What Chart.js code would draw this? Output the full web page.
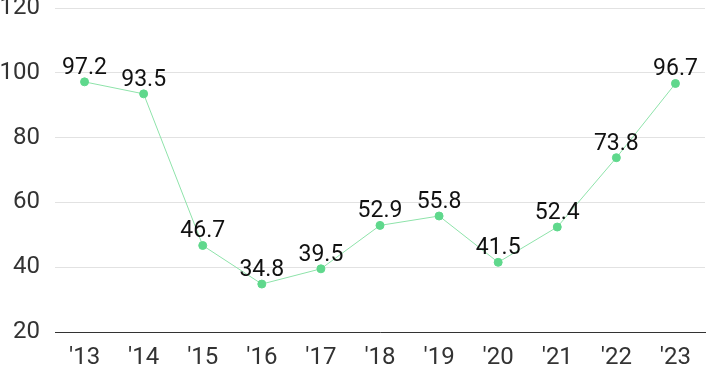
<!DOCTYPE html>
<html>
<head>
<meta charset="utf-8">
<script src="https://cdn.jsdelivr.net/npm/chart.js@4/dist/chart.umd.min.js"></script>
<style>
html,body{margin:0;padding:0;background:#fff;}
#wrap{width:710px;height:371px;position:relative;}
</style>
</head>
<body>
<div id="wrap"><canvas id="c" width="710" height="371"></canvas></div>
<script>
const categories = ["'13","'14","'15","'16","'17","'18","'19","'20","'21","'22","'23"];
const values = [97.2, 93.5, 46.7, 34.8, 39.5, 52.9, 55.8, 41.5, 52.4, 73.8, 96.7];
const yTicks = [20, 40, 60, 80, 100, 120];

const labelPlugin = {
  id: 'pointLabels',
  afterDatasetsDraw(chart) {
    const ctx = chart.ctx;
    const meta = chart.getDatasetMeta(0);
    ctx.save();
    ctx.font = '23px Roboto, sans-serif';
    ctx.fillStyle = '#111';
    ctx.textAlign = 'center';
    ctx.textBaseline = 'alphabetic';
    meta.data.forEach((pt, i) => {
      ctx.fillText(values[i].toFixed(1), pt.x, pt.y - 8);
    });
    ctx.restore();
  }
};

new Chart(document.getElementById('c'), {
  type: 'line',
  data: {
    labels: categories,
    datasets: [{
      data: values,
      borderColor: '#8ee3aa',
      borderWidth: 1,
      pointBackgroundColor: '#5fd88c',
      pointBorderColor: '#5fd88c',
      pointRadius: 4,
      pointHoverRadius: 4,
      tension: 0,
      fill: false
    }]
  },
  options: {
    responsive: false,
    animation: false,
    layout: { padding: { left: 0, right: 0, top: 8, bottom: 0 } },
    plugins: { legend: { display: false }, tooltip: { enabled: false } },
    scales: {
      x: {
        offset: true,
        afterFit(scale) { scale.height = 39; scale.paddingLeft = 0; scale.paddingRight = 0; },
        grid: { display: false, drawTicks: false },
        border: { display: true, color: '#333', width: 1 },
        ticks: { color: '#333', font: { family: 'Roboto, sans-serif', size: 24 }, padding: 12 }
      },
      y: {
        min: 20, max: 120,
        afterBuildTicks(scale) { scale.ticks = yTicks.map(v => ({ value: v })); },
        afterFit(scale) { scale.width = 55; scale.paddingTop = 0; scale.paddingBottom = 0; },
        grid: { color: '#e2e2e2', drawTicks: false },
        border: { display: false },
        ticks: { color: '#333', font: { family: 'Roboto, sans-serif', size: 24 }, padding: 15 }
      }
    }
  },
  plugins: [labelPlugin]
});
</script>
</body>
</html>
